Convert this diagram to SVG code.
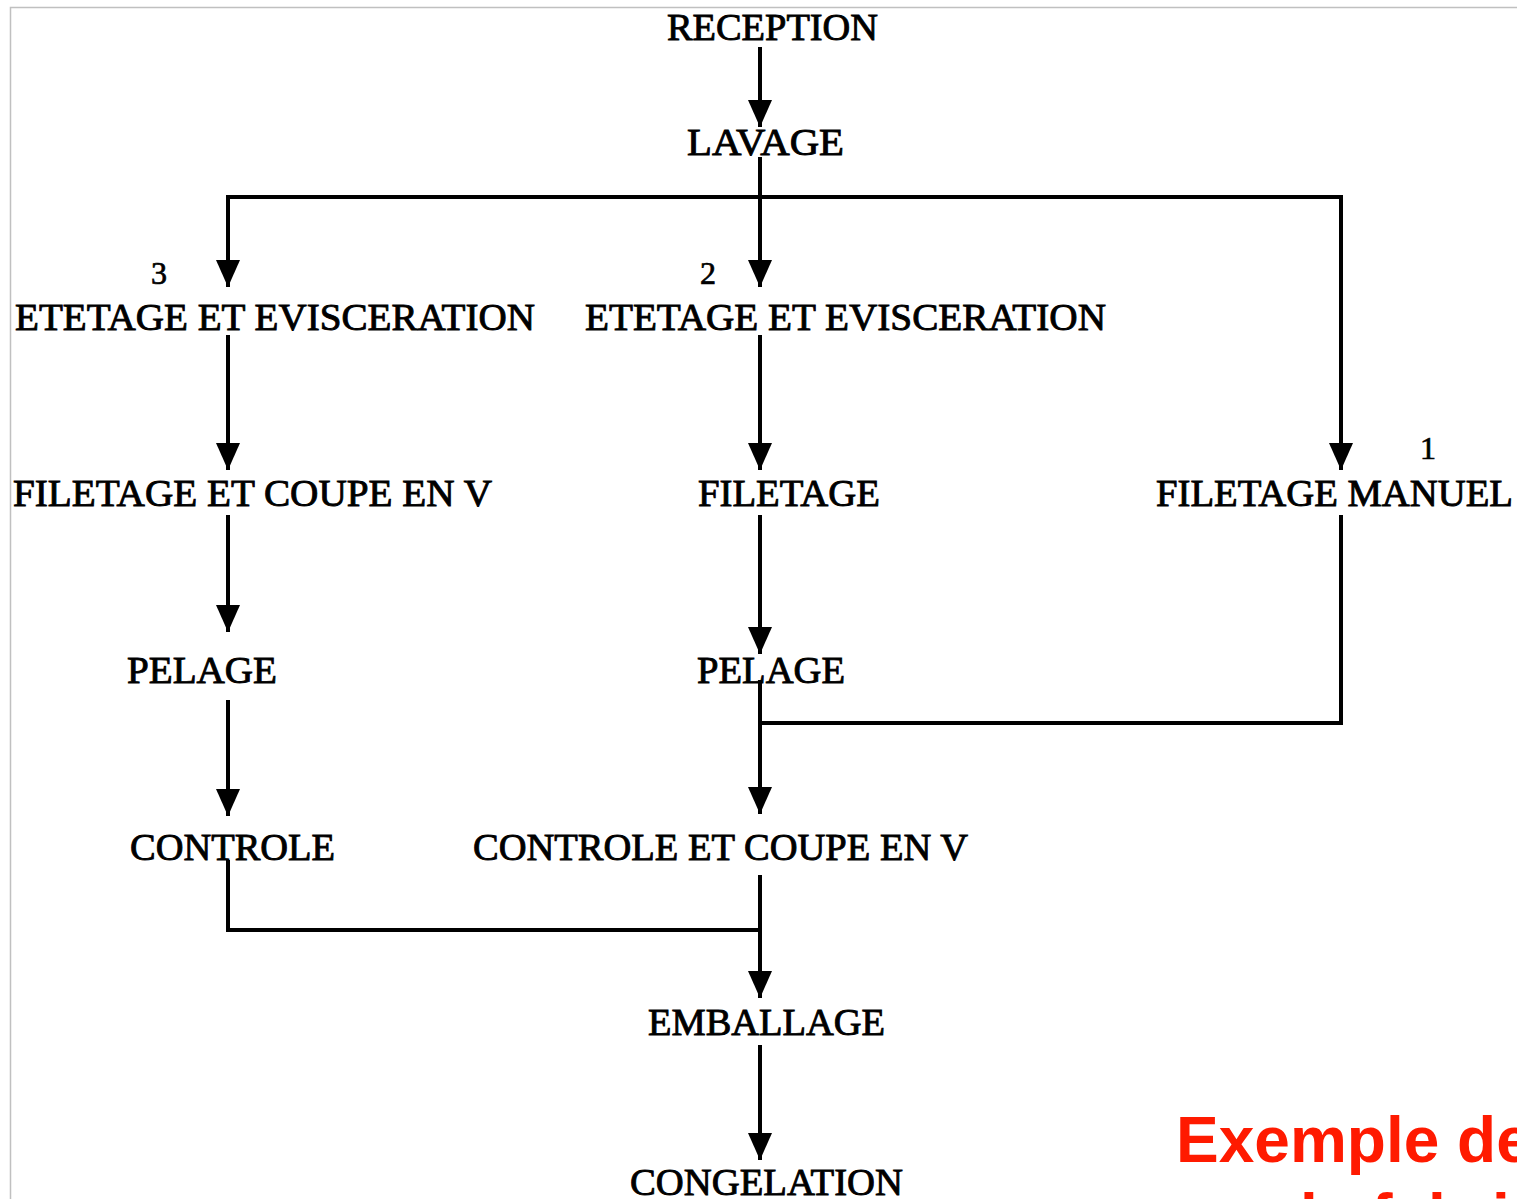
<svg xmlns="http://www.w3.org/2000/svg" width="1517" height="1199" viewBox="0 0 1517 1199">
<defs>
<style>
.t{font-family:"Liberation Serif","Times New Roman",serif;font-size:38px;fill:#000;stroke:#000;stroke-width:0.9px;}
.n{font-family:"Liberation Serif","Times New Roman",serif;font-size:32px;fill:#000;stroke:#000;stroke-width:0.7px;}
.c{fill:none;stroke:#000;stroke-width:4;}
.r{font-family:"Liberation Sans",Arial,sans-serif;font-size:64px;font-weight:bold;fill:#ff1a00;}
</style>
<marker id="ah" markerUnits="userSpaceOnUse" markerWidth="28" markerHeight="26" viewBox="0 0 28 26" refX="27" refY="13" orient="auto">
<path d="M0,1 L27,13 L0,25 Z" fill="#000"/>
</marker>
</defs>
<rect width="1517" height="1199" fill="#fff"/>
<path d="M10.5,1199 V7.5 H1517" fill="none" stroke="#c0c0c0" stroke-width="1.5"/>

<g id="connectors">
<line class="c" x1="760" y1="47" x2="760" y2="127" marker-end="url(#ah)"/>
<line class="c" x1="760" y1="157" x2="760" y2="287" marker-end="url(#ah)"/>
<path class="c" d="M228,197 H1341 V470" marker-end="url(#ah)"/>
<line class="c" x1="228" y1="195" x2="228" y2="287" marker-end="url(#ah)"/>
<line class="c" x1="228" y1="335" x2="228" y2="470" marker-end="url(#ah)"/>
<line class="c" x1="760" y1="335" x2="760" y2="470" marker-end="url(#ah)"/>
<line class="c" x1="228" y1="515" x2="228" y2="632" marker-end="url(#ah)"/>
<line class="c" x1="760" y1="515" x2="760" y2="654" marker-end="url(#ah)"/>
<path class="c" d="M1341,515 V723 H760"/>
<line class="c" x1="760" y1="680" x2="760" y2="814" marker-end="url(#ah)"/>
<line class="c" x1="228" y1="700" x2="228" y2="816" marker-end="url(#ah)"/>
<path class="c" d="M228,860 V930 H760"/>
<line class="c" x1="760" y1="875" x2="760" y2="998" marker-end="url(#ah)"/>
<line class="c" x1="760" y1="1045" x2="760" y2="1160" marker-end="url(#ah)"/>
</g>

<g id="reception"><text class="t" x="667" y="40" textLength="211" lengthAdjust="spacingAndGlyphs">RECEPTION</text></g>
<g id="lavage"><text class="t" x="687" y="155" textLength="157" lengthAdjust="spacingAndGlyphs">LAVAGE</text></g>
<g id="num3"><text class="n" x="151" y="284">3</text></g>
<g id="num2"><text class="n" x="700" y="284">2</text></g>
<g id="num1"><text class="n" x="1420" y="459">1</text></g>
<g id="etetage3"><text class="t" x="15" y="330" textLength="520" lengthAdjust="spacingAndGlyphs">ETETAGE ET EVISCERATION</text></g>
<g id="etetage2"><text class="t" x="585" y="330" textLength="521" lengthAdjust="spacingAndGlyphs">ETETAGE ET EVISCERATION</text></g>
<g id="filetage3"><text class="t" x="13" y="506" textLength="479" lengthAdjust="spacingAndGlyphs">FILETAGE ET COUPE EN V</text></g>
<g id="filetage2"><text class="t" x="698" y="506" textLength="182" lengthAdjust="spacingAndGlyphs">FILETAGE</text></g>
<g id="filetage1"><text class="t" x="1156" y="506" textLength="357" lengthAdjust="spacingAndGlyphs">FILETAGE MANUEL</text></g>
<g id="pelage3"><text class="t" x="127" y="683" textLength="150" lengthAdjust="spacingAndGlyphs">PELAGE</text></g>
<g id="pelage2"><text class="t" x="697" y="683" textLength="148" lengthAdjust="spacingAndGlyphs">PELAGE</text></g>
<g id="controle3"><text class="t" x="130" y="860" textLength="205" lengthAdjust="spacingAndGlyphs">CONTROLE</text></g>
<g id="controle2"><text class="t" x="473" y="860" textLength="495" lengthAdjust="spacingAndGlyphs">CONTROLE ET COUPE EN V</text></g>
<g id="emballage"><text class="t" x="648" y="1035" textLength="237" lengthAdjust="spacingAndGlyphs">EMBALLAGE</text></g>
<g id="congelation"><text class="t" x="630" y="1195" textLength="273" lengthAdjust="spacingAndGlyphs">CONGELATION</text></g>

<g id="caption">
<text class="r" x="1176" y="1162">Exemple de</text>
<text class="r" x="1300" y="1239">la fabrication</text>
</g>
</svg>
